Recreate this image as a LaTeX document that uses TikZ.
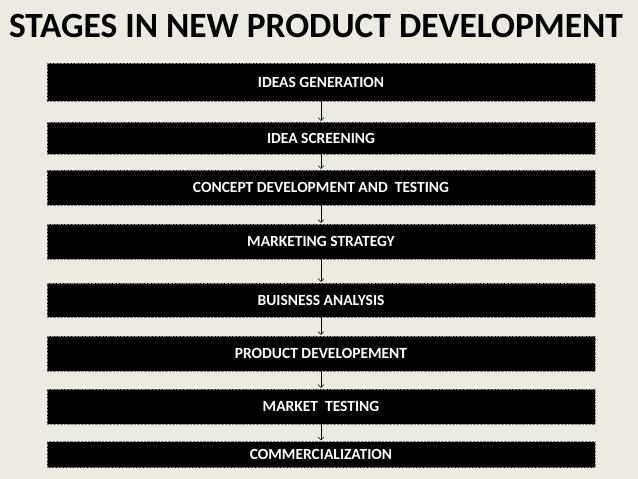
\documentclass[tikz,border=0pt]{standalone}
\usepackage{fontspec}
\setmainfont{Carlito}
\usepackage{tikz}
\usetikzlibrary{arrows.meta}
\definecolor{slidebg}{RGB}{237,234,225}

\begin{document}
\begin{tikzpicture}[x=1pt,y=-1pt,
    stage/.style={fill=black,draw=gray,densely dotted,minimum width=548pt,inner sep=0,
      text=white,font=\bfseries\fontsize{15.5}{17}\selectfont},
    link/.style={-{Straight Barb[length=3pt,width=6pt]},thin,shorten >=1pt}]
        \useasboundingbox (0,0) rectangle (638,479);
        \fill[slidebg] (0,0) rectangle (638,479);
        \node[font=\bfseries\fontsize{35.4}{37}\selectfont,inner sep=0] (title) at (316,26) {STAGES IN NEW PRODUCT DEVELOPMENT};
        \node[stage,minimum height=38pt] (1) at (321,82) {IDEAS GENERATION};
        \node[stage,minimum height=32pt] (2) at (321,138) {IDEA SCREENING};
        \node[stage,minimum height=35pt] (3) at (321,187.5) {CONCEPT DEVELOPMENT AND\ \ TESTING};
        \node[stage,minimum height=35pt] (4) at (321,241.5) {MARKETING STRATEGY};
        \node[stage,minimum height=34pt] (5) at (321,300) {BUISNESS ANALYSIS};
        \node[stage,minimum height=35pt] (6) at (321,353.5) {PRODUCT DEVELOPEMENT};
        \node[stage,minimum height=35pt] (7) at (321,406.5) {MARKET\ \ TESTING};
        \node[stage,minimum height=26pt] (8) at (321,454.5) {COMMERCIALIZATION};
        \draw[link] (1) -- (2);
        \draw[link] (2) -- (3);
        \draw[link] (3) -- (4);
        \draw[link] (4) -- (5);
        \draw[link] (5) -- (6);
        \draw[link] (6) -- (7);
        \draw[link] (7) -- (8);
      \end{tikzpicture}
\end{document}
